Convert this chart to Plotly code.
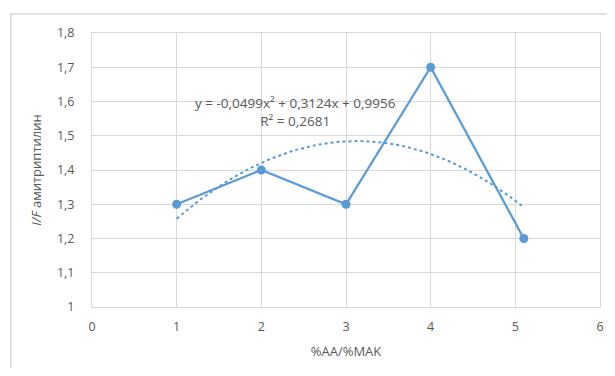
import numpy as np
import plotly.graph_objects as go

# Data
x_vals = [1, 2, 3, 4, 5.1]
y_vals = [1.3, 1.4, 1.3, 1.7, 1.2]
trend_coeffs = [-0.0499, 0.3124, 0.9956]  # shown polynomial trendline
x_ticks = [0, 1, 2, 3, 4, 5, 6]
y_ticks = [1.0, 1.1, 1.2, 1.3, 1.4, 1.5, 1.6, 1.7, 1.8]
y_tick_labels = ["1", "1,1", "1,2", "1,3", "1,4", "1,5", "1,6", "1,7", "1,8"]
x_title = "%AA/%MAK"
y_title = "<i>I/F</i> амитриптилин"
eq_text = "y = -0,0499x² + 0,3124x + 0,9956<br>R² = 0,2681"

BLUE = "#5B9BD5"
GRID = "#D9D9D9"
TXT = "#595959"
FONT = "Open Sans, Liberation Sans, Arial, sans-serif"

tx = np.linspace(min(x_vals), max(x_vals), 80)
ty = np.polyval(trend_coeffs, tx)

fig = go.Figure()
fig.add_trace(go.Scatter(x=tx, y=ty, mode="lines",
                         line=dict(color=BLUE, width=2, dash="dot"),
                         hoverinfo="skip", showlegend=False))
fig.add_trace(go.Scatter(x=x_vals, y=y_vals, mode="lines+markers",
                         line=dict(color=BLUE, width=2.25),
                         marker=dict(color=BLUE, size=9),
                         showlegend=False))

fig.add_annotation(x=2.40, y=1.570, xref="x", yref="y", text=eq_text,
                   showarrow=False, xanchor="center", yanchor="middle", align="center",
                   font=dict(family=FONT, size=13.5, color=TXT))

# outer chart frame
fig.add_shape(type="rect", xref="paper", yref="paper",
              x0=-0.160, x1=1.2, y0=-0.5, y1=1.069,
              line=dict(color="#D9D9D9", width=1.5), fillcolor="rgba(0,0,0,0)", layer="below")

fig.update_layout(
    width=607, height=360,
    margin=dict(l=84, r=11, t=25, b=61),
    paper_bgcolor="white", plot_bgcolor="white",
    font=dict(family=FONT, size=12, color=TXT),
    xaxis=dict(range=[0, 6], tickvals=x_ticks, ticktext=[str(v) for v in x_ticks],
               showgrid=True, gridcolor=GRID, gridwidth=1,
               showline=True, linecolor=GRID, linewidth=1, mirror=True,
               zeroline=False, ticks="", ticklen=0, ticklabelstandoff=8,
               title=dict(text=x_title, font=dict(size=13, color=TXT), standoff=12),
               tickfont=dict(size=12.5, color=TXT)),
    yaxis=dict(range=[1.0, 1.8], tickvals=y_ticks, ticktext=y_tick_labels,
               showgrid=True, gridcolor=GRID, gridwidth=1,
               showline=True, linecolor=GRID, linewidth=1, mirror=True,
               zeroline=False, ticks="", ticklen=0, ticklabelstandoff=14,
               title=dict(text=y_title, font=dict(size=13, color=TXT), standoff=12),
               tickfont=dict(size=12.5, color=TXT)),
)

fig.write_html("out.html")
